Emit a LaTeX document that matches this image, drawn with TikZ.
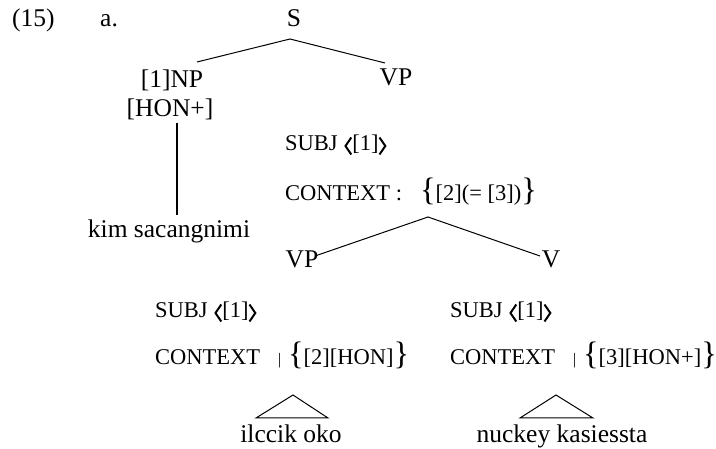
\documentclass[tikz,border=0pt]{standalone}
\usepackage{fontspec}
\setmainfont{Liberation Serif}
\tikzset{
  lbl/.style={anchor=base, inner sep=0pt, font=\fontsize{25.5}{30}\selectfont},
  lblw/.style={lbl, anchor=base west},
  feat/.style={anchor=base west, inner sep=0pt, font=\fontsize{22.5}{27}\selectfont},
  branch/.style={line width=1pt},
  stem/.style={line width=1.8pt},
  angbr/.style={line width=2pt, line join=miter},
}
\newcommand{\myangl}{\tikz[baseline=0pt,x=1pt,y=1pt]\draw[angbr] (7,13.5) -- (1.2,5) -- (7,-3.5);}
\newcommand{\myangr}{\tikz[baseline=0pt,x=1pt,y=1pt]\draw[angbr] (0,13.5) -- (5.8,5) -- (0,-3.5);}
\newcommand{\mybrl}{{\fontsize{32.5}{32}\selectfont\{}}
\newcommand{\mybrr}{{\fontsize{32.5}{32}\selectfont\}}}
\newcommand{\mysbar}{{\fontsize{16}{16}\selectfont |}}
\begin{document}
\begin{tikzpicture}[x=1pt,y=-1pt]
\useasboundingbox (0,0) rectangle (716,449);
% labels
\node[lblw] (ex) at (12,27) {(15)};
\node[lblw] (a) at (100,27) {a.};
\node[lbl] (S) at (294,27) {S};
\node[lbl] (NP) at (172,88) {[1]NP};
\node[lbl] (hon) at (170,117) {[HON+]};
\node[lbl] (VPt) at (396,86) {VP};
\node[lbl] (kim) at (169,238) {kim sacangnimi};
\node[feat] (subj1) at (285,151) {SUBJ\hspace{0.3em}\myangl[1]\myangr};
\node[feat] (ctx1) at (285,201) {CONTEXT :\hspace{0.8em}\mybrl[2](= [3])\mybrr};
\node[lbl] (VPm) at (302,268) {VP};
\node[lbl] (V) at (551,268) {V};
\node[feat] (subj2) at (155,318) {SUBJ\hspace{0.3em}\myangl[1]\myangr};
\node[feat] (ctx2) at (155,365) {CONTEXT\hspace{0.8em}\mysbar\hspace{0.3em}\mybrl[2][HON]\mybrr};
\node[feat] (subj3) at (450,318) {SUBJ\hspace{0.3em}\myangl[1]\myangr};
\node[feat] (ctx3) at (450,365) {CONTEXT\hspace{0.8em}\mysbar\hspace{0.3em}\mybrl[3][HON+]\mybrr};
\node[lbl] (w1) at (291,443) {ilccik oko};
\node[lbl] (w2) at (562,443) {nuckey kasiessta};
% branch points
\coordinate (Sb) at (290,39);
\coordinate (NPt) at (197,62);
\coordinate (VPtt) at (385,63);
\coordinate (honb) at (177,123);
\coordinate (kimt) at (177,215);
\coordinate (ctxb) at (428,217);
\coordinate (VPmt) at (315,256);
\coordinate (Vt) at (540,256);
\coordinate (t1a) at (293,395);
\coordinate (t1l) at (256,418);
\coordinate (t1r) at (328,418);
\coordinate (t2a) at (556,395);
\coordinate (t2l) at (520,418);
\coordinate (t2r) at (593,418);
% connectors
\draw[branch] (NPt) -- (Sb) -- (VPtt);
\draw[stem] (honb) -- (kimt);
\draw[branch] (VPmt) -- (ctxb) -- (Vt);
\draw[branch] (t1l) -- (t1a) -- (t1r) -- cycle;
\draw[branch] (t2l) -- (t2a) -- (t2r) -- cycle;
\end{tikzpicture}
\end{document}
